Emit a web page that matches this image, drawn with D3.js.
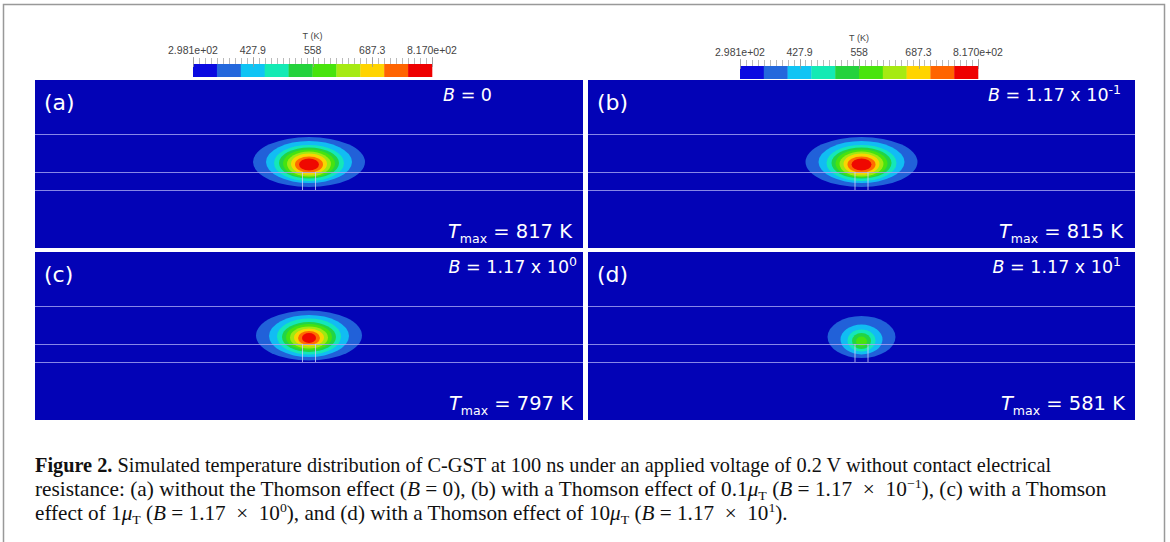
<!DOCTYPE html>
<html><head><meta charset="utf-8">
<script src="https://cdn.jsdelivr.net/npm/d3@7"></script>
<style>html,body{margin:0;padding:0;background:#fff;}svg{display:block;}</style>
</head><body>
<svg id="chart" width="1170" height="542"></svg>
<script>
// ---------- data ----------
const panelIds = ["(a)", "(b)", "(c)", "(d)"];
const bMantissa = ["0", "1.17 x 10", "1.17 x 10", "1.17 x 10"];
const bExponent = ["", "-1", "0", "1"];
const tmaxValues = [817, 815, 797, 581];
const tMin = 298.1, tMax = 817;
const binColors = ["#0a0ae0", "#2468dc", "#10c4f4", "#14eab4", "#24d23c", "#48e40c", "#a6ea12", "#ffd400", "#ff6400", "#ee0000"];
const tickValues = [298.1, 427.9, 558, 687.3, 817];
const tickLabels = ["2.981e+02", "427.9", "558", "687.3", "8.170e+02"];
// isotherm band shapes (outer -> inner), one per reached temperature bin
const rxA = [56, 43, 35, 30, 26, 22, 18, 14, 10];
const ryA = [25, 21, 18, 15.5, 14, 12.5, 10.5, 8, 6];
const cyA = [82, 82, 83, 83, 83.5, 84, 84, 84.5, 84.5];
const rxB = [56, 43, 35, 30, 26, 22, 18, 14, 10];
const ryB = [25, 21, 18, 15.5, 14, 12.5, 10.5, 8, 6];
const cyB = [82, 82, 83, 83, 83.5, 84, 84, 84.5, 84.5];
const rxC = [53, 40, 32, 27, 23, 19, 15, 11, 7];
const ryC = [25, 21, 18, 15, 13, 11, 9, 7, 5];
const cyC = [83.5, 84, 84.5, 85, 85, 85.5, 85.5, 86, 86];
const rxD = [34, 21, 14, 9.5, 5.5];
const ryD = [21, 15, 11, 8, 5];
const cyD = [85, 87.5, 88.5, 89, 89.5];
const layerLines = [54, 92, 110];
const heaterHalfWidth = 6.5;
const captionLines = [
  [{t:"Figure 2.", b:1}, {t:" Simulated temperature distribution of C-GST at 100 ns under an applied voltage of 0.2 V without contact electrical"}],
  [{t:"resistance: (a) without the Thomson effect ("}, {t:"B", i:1}, {t:" = 0), (b) with a Thomson effect of 0.1"}, {t:"μ", i:1}, {t:"T", sub:1}, {t:" ("}, {t:"B", i:1}, {t:" = 1.17  ×  10"}, {t:"−1", sup:1}, {t:"), (c) with a Thomson"}],
  [{t:"effect of 1"}, {t:"μ", i:1}, {t:"T", sub:1}, {t:" ("}, {t:"B", i:1}, {t:" = 1.17  ×  10"}, {t:"0", sup:1}, {t:"), and (d) with a Thomson effect of 10"}, {t:"μ", i:1}, {t:"T", sub:1}, {t:" ("}, {t:"B", i:1}, {t:" = 1.17  ×  10"}, {t:"1", sup:1}, {t:")."}]
];
const captionWidths = [1017, 1072, 753];

// ---------- layout ----------
const svg = d3.select("#chart");
svg.append("rect").attr("x", 3.5).attr("y", 4.5).attr("width", 1161).attr("height", 600)
  .attr("fill", "none").attr("stroke", "#999").attr("stroke-width", 1.5);

const panels = [
  {x0: 35, x1: 583, y0: 80, y1: 248, rx: rxA, ry: ryA, cy: cyA, bx: 492, tx: 572},
  {x0: 588, x1: 1135, y0: 80, y1: 248, rx: rxB, ry: ryB, cy: cyB, bx: 1121, tx: 1123},
  {x0: 35, x1: 583, y0: 252, y1: 420, rx: rxC, ry: ryC, cy: cyC, bx: 577, tx: 573},
  {x0: 588, x1: 1135, y0: 252, y1: 420, rx: rxD, ry: ryD, cy: cyD, bx: 1121, tx: 1125}
];
const binScale = d3.scaleQuantize().domain([tMin, tMax]).range(d3.range(10));

panels.forEach((p, i) => {
  const w = p.x1 - p.x0, h = p.y1 - p.y0;
  const xs = d3.scaleLinear().domain([-w / 2, w / 2]).range([p.x0, p.x1]);
  const ys = d3.scaleLinear().domain([0, h]).range([p.y0, p.y1]);
  const g = svg.append("g");
  g.append("clipPath").attr("id", "clip" + i).append("rect")
    .attr("x", p.x0).attr("y", p.y0).attr("width", w).attr("height", h);
  const inner = g.append("g").attr("clip-path", `url(#clip${i})`);
  inner.append("rect").attr("x", p.x0).attr("y", p.y0).attr("width", w).attr("height", h).attr("fill", "#0303b6");
  const topBin = binScale(tmaxValues[i]);
  const bands = d3.range(1, topBin + 1);
  inner.selectAll("ellipse.band").data(bands).join("ellipse").attr("class", "band")
    .attr("cx", xs(0))
    .attr("cy", (d, k) => ys(p.cy[k]))
    .attr("rx", (d, k) => xs(p.rx[k]) - xs(0))
    .attr("ry", (d, k) => ys(p.ry[k]) - ys(0))
    .attr("fill", d => binColors[d])
    .attr("opacity", 0.93);
  inner.selectAll("line.layer").data(layerLines).join("line").attr("class", "layer")
    .attr("x1", p.x0).attr("x2", p.x1).attr("y1", d => ys(d) + 0.5).attr("y2", d => ys(d) + 0.5)
    .attr("stroke", "#a8a8f4").attr("stroke-width", 1).attr("opacity", 0.8);
  inner.selectAll("line.heater").data([-heaterHalfWidth, heaterHalfWidth]).join("line").attr("class", "heater")
    .attr("x1", d => xs(d)).attr("x2", d => xs(d))
    .attr("y1", ys(layerLines[1])).attr("y2", ys(layerLines[2]))
    .attr("stroke", "#d0d0f8").attr("stroke-width", 1).attr("opacity", 0.8);
  // labels
  g.append("text").attr("x", p.x0 + 9).attr("y", p.y0 + 30).attr("fill", "#fff")
    .attr("font-family", "DejaVu Sans").attr("font-size", 22).text(panelIds[i]);
  const bt = g.append("text").attr("x", p.bx).attr("y", p.y0 + 21).attr("fill", "#fff")
    .attr("text-anchor", "end").attr("font-family", "DejaVu Sans").attr("font-size", 17.5);
  bt.append("tspan").attr("font-style", "italic").text("B");
  bt.append("tspan").text(" = " + bMantissa[i]);
  if (bExponent[i]) bt.append("tspan").attr("dy", -7).attr("font-size", 12.5).text(bExponent[i]);
  const tt = g.append("text").attr("x", p.tx).attr("y", p.y1 - 10).attr("fill", "#fff")
    .attr("text-anchor", "end").attr("font-family", "DejaVu Sans").attr("font-size", 19.5);
  tt.append("tspan").attr("font-style", "italic").text("T");
  tt.append("tspan").attr("dy", 5).attr("font-size", 12.5).text("max");
  tt.append("tspan").attr("dy", -5).text(" = " + tmaxValues[i] + " K");
});

// ---------- colour bars ----------
const bars = [{x0: 193, x1: 432, y0: 64, y1: 77}, {x0: 740, x1: 978, y0: 66, y1: 79}];
bars.forEach(b => {
  const cs = d3.scaleLinear().domain([tMin, tMax]).range([b.x0, b.x1]);
  const g = svg.append("g");
  const step = (tMax - tMin) / 10;
  g.selectAll("rect").data(binColors).join("rect")
    .attr("x", (d, k) => cs(tMin + k * step)).attr("y", b.y0)
    .attr("width", (d, k) => cs(tMin + (k + 1) * step) - cs(tMin + k * step) + 0.3)
    .attr("height", b.y1 - b.y0).attr("fill", d => d);
  const minor = d3.range(41).map(k => tMin + k * (tMax - tMin) / 40);
  g.selectAll("line.minor").data(minor).join("line").attr("class", "minor")
    .attr("x1", d => Math.round(cs(d)) + 0.5).attr("x2", d => Math.round(cs(d)) + 0.5)
    .attr("y1", b.y0 - 6).attr("y2", b.y0).attr("stroke", "#aaa").attr("stroke-width", 0.8);
  g.selectAll("line.major").data(tickValues).join("line").attr("class", "major")
    .attr("x1", d => Math.round(cs(d)) + 0.5).attr("x2", d => Math.round(cs(d)) + 0.5)
    .attr("y1", b.y0 - 7).attr("y2", b.y0 + 3).attr("stroke", "#999").attr("stroke-width", 0.8);
  g.selectAll("text.tick").data(tickValues).join("text").attr("class", "tick")
    .attr("x", d => cs(d)).attr("y", b.y0 - 10).attr("text-anchor", "middle")
    .attr("font-family", "Liberation Sans").attr("font-size", 10.5).attr("fill", "#444")
    .text((d, k) => tickLabels[k]);
  g.append("text").attr("x", (b.x0 + b.x1) / 2).attr("y", b.y0 - 25).attr("text-anchor", "middle")
    .attr("font-family", "Liberation Sans").attr("font-size", 9).attr("fill", "#444").text("T (K)");
});

// ---------- caption ----------
const capY = [472, 496, 520];
captionLines.forEach((parts, li) => {
  const g = svg.append("g");
  const t = g.append("text").attr("x", 0).attr("y", 0).attr("font-family", "Liberation Serif")
    .attr("font-size", 20).attr("fill", "#111").attr("xml:space", "preserve").style("white-space", "pre");
  parts.forEach(pt => {
    const s = t.append("tspan").text(pt.t);
    if (pt.b) s.attr("font-weight", "bold");
    if (pt.i) s.attr("font-style", "italic");
    if (pt.sub) s.attr("font-size", 13).attr("dy", 4);
    if (pt.sup) s.attr("font-size", 13).attr("dy", -8);
  });
  t.selectAll("tspan").each(function(d, k) {
    const pt = parts[k];
    const prev = parts[k - 1];
    if (prev && prev.sub && !pt.sub) d3.select(this).attr("dy", -4);
    if (prev && prev.sup && !pt.sup) d3.select(this).attr("dy", 8);
  });
  const w = t.node().getComputedTextLength();
  g.attr("transform", `translate(35,${capY[li]}) scale(${captionWidths[li] / w},1)`);
});
</script>
</body></html>
